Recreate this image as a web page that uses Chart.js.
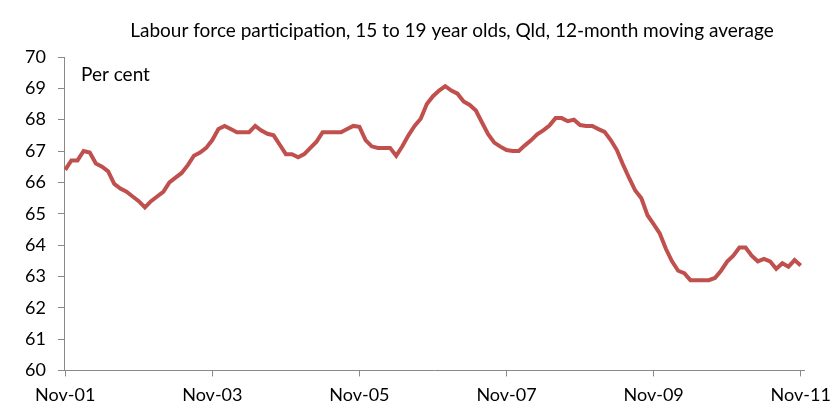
<!DOCTYPE html>
<html>
<head>
<meta charset="utf-8">
<script src="https://cdn.jsdelivr.net/npm/chart.js@4/dist/chart.umd.min.js"></script>
<style>
    html, body { margin: 0; padding: 0; background: #fff; }
    #wrap { width: 839px; height: 420px; }
</style>
</head>
<body>
<div id="wrap"><canvas id="lfpChart"></canvas></div>
<script>
// monthly series, Nov-01 .. Nov-11
const participation = [
    66.4, 66.7, 66.7, 67.0, 66.95, 66.6, 66.5, 66.35, 65.95, 65.8,
    65.7, 65.55, 65.4, 65.2, 65.4, 65.55, 65.7, 66.0, 66.15, 66.3,
    66.55, 66.85, 66.95, 67.1, 67.35, 67.7, 67.8, 67.7, 67.6, 67.6,
    67.6, 67.8, 67.65, 67.55, 67.5, 67.2, 66.9, 66.9, 66.8, 66.9,
    67.1, 67.3, 67.6, 67.6, 67.6, 67.6, 67.7, 67.8, 67.77, 67.35,
    67.15, 67.1, 67.1, 67.1, 66.85, 67.15, 67.5, 67.8, 68.03, 68.5,
    68.75, 68.93, 69.07, 68.93, 68.83, 68.58, 68.47, 68.29, 67.91, 67.54,
    67.27, 67.14, 67.03, 67.0, 67.0, 67.18, 67.34, 67.53, 67.66, 67.81,
    68.05, 68.05, 67.95, 68.0, 67.83, 67.8, 67.8, 67.7, 67.61, 67.35,
    67.03, 66.57, 66.14, 65.74, 65.49, 64.95, 64.67, 64.37, 63.88, 63.48,
    63.18, 63.1, 62.88, 62.88, 62.88, 62.88, 62.95, 63.18, 63.47, 63.66,
    63.92, 63.92, 63.66, 63.48, 63.56, 63.48, 63.24, 63.42, 63.31, 63.52,
    63.35
];

const monthNames = ['Jan', 'Feb', 'Mar', 'Apr', 'May', 'Jun', 'Jul', 'Aug', 'Sep', 'Oct', 'Nov', 'Dec'];
const months = [];
for (let i = 0; i < participation.length; i++) {
    const m = (10 + i) % 12;
    const y = 1 + Math.floor((10 + i) / 12);
    months.push(monthNames[m] + '-' + String(y).padStart(2, '0'));
}

const tickLabels = ['Nov-01', 'Nov-03', 'Nov-05', 'Nov-07', 'Nov-09', 'Nov-11'];
const yTicks = [60, 61, 62, 63, 64, 65, 66, 67, 68, 69, 70];

const TITLE = 'Labour force participation, 15 to 19 year olds, Qld, 12-month moving average';
const FONT = 'Lato, "Open Sans", sans-serif';
const AXIS_GREY = '#898989';

// title sits off-centre in the original, plus the "Per cent" unit label
const chartText = {
    id: 'chartText',
    afterDraw(chart) {
        const ctx = chart.ctx;
        const area = chart.chartArea;
        ctx.save();
        ctx.fillStyle = '#000';
        ctx.textBaseline = 'middle';
        ctx.font = '19px ' + FONT;
        ctx.textAlign = 'center';
        ctx.fillText(TITLE, 452, 31);
        ctx.textAlign = 'left';
        ctx.fillText('Per cent', area.left + 17, area.top + 18);
        ctx.restore();
    }
};

const ctx = document.getElementById('lfpChart').getContext('2d');
new Chart(ctx, {
    type: 'line',
    data: {
        datasets: [{
            label: 'Labour force participation',
            data: participation.map((v, i) => ({ x: i, y: v, m: months[i] })),
            borderColor: '#C0504D',
            borderWidth: 4,
            pointRadius: 0,
            tension: 0,
            fill: false
        }]
    },
    options: {
        responsive: true,
        maintainAspectRatio: false,
        animation: false,
        layout: { padding: { top: 57, right: 29, left: 0, bottom: 6 } },
        plugins: {
            legend: { display: false },
            tooltip: { enabled: false },
            title: { display: false }
        },
        scales: {
            x: {
                type: 'linear',
                min: -0.2,
                max: 120.6,
                grid: { drawOnChartArea: false, drawTicks: true, tickLength: 6, color: AXIS_GREY },
                border: { color: AXIS_GREY, width: 1 },
                afterBuildTicks: (axis) => {
                    axis.ticks = tickLabels.map((t, k) => ({ value: k * 24 }));
                },
                ticks: {
                    color: '#000',
                    font: { family: FONT, size: 18 },
                    padding: 8,
                    maxRotation: 0,
                    autoSkip: false,
                    callback: (value) => tickLabels[Math.round(value / 24)]
                }
            },
            y: {
                min: 60,
                max: 70,
                grid: { drawOnChartArea: false, drawTicks: true, tickLength: 6, color: AXIS_GREY },
                border: { color: AXIS_GREY, width: 1 },
                afterBuildTicks: (axis) => {
                    axis.ticks = yTicks.map(v => ({ value: v }));
                },
                afterFit: (axis) => { axis.width = 64; },
                ticks: {
                    color: '#000',
                    font: { family: FONT, size: 18 },
                    padding: 12
                }
            }
        }
    },
    plugins: [chartText]
});
</script>
</body>
</html>
